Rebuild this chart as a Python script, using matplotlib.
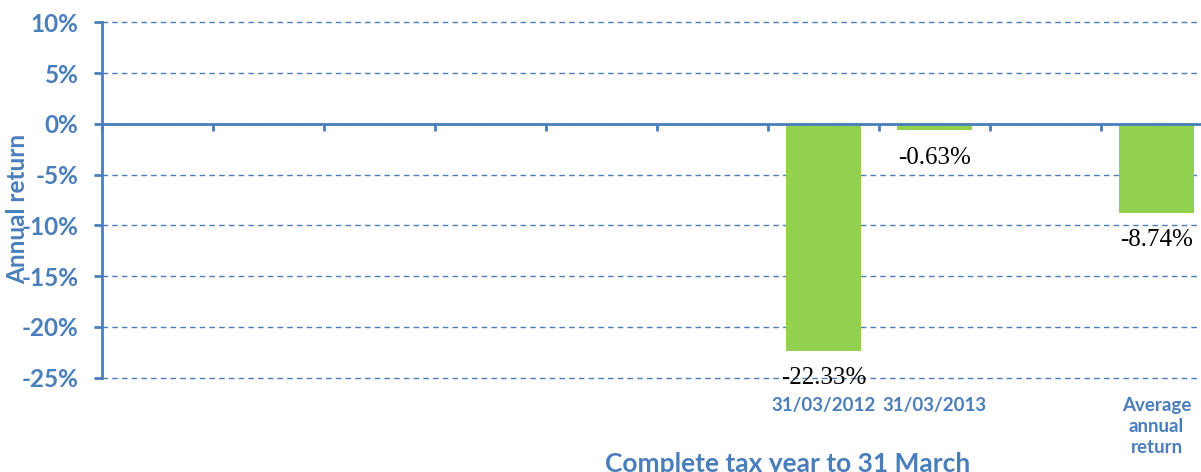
import numpy as np
import matplotlib
matplotlib.use('Agg')
import matplotlib.pyplot as plt
import matplotlib.transforms as mtransforms

# chart data
categories = ['', '', '', '', '', '', '31/03/2012', '31/03/2013', '', 'Average\nannual\nreturn']
returns = [np.nan, np.nan, np.nan, np.nan, np.nan, np.nan, -22.33, -0.63, np.nan, -8.74]
yticks = [10, 5, 0, -5, -10, -15, -20, -25]

blue = '#4A7EBB'
green = '#92D050'
font = 'Lato'

fig = plt.figure(figsize=(12.01, 4.72), dpi=100)
ax = fig.add_axes([102/1201., 1 - 377.7/472., 1110/1201., 355.2/472.])

x = np.arange(len(categories))
bars = ax.bar(x, returns, width=0.68, color=green, zorder=3)

for xi, v in zip(x, returns):
	if np.isnan(v):
		continue
	ax.annotate('%.2f%%' % v, (xi, v), xytext=(0, -20), textcoords='offset points',
		ha='center', va='center', fontsize=18, family='Liberation Serif', color='black', zorder=4)

ax.set_xlim(-0.5, len(categories) - 0.5)
ax.set_ylim(-25, 10)
ax.set_yticks(yticks)
ax.set_yticklabels(['%d%%' % t for t in yticks], fontsize=17.5, fontweight='bold', family=font, color=blue)
ax.yaxis.grid(True, linestyle=(0, (4, 3)), color=blue, linewidth=1, zorder=0)
for gl in ax.get_ygridlines():
	gl.set_clip_on(False)

for s in ['top', 'right']:
	ax.spines[s].set_visible(False)
ax.spines['left'].set_color(blue)
ax.spines['left'].set_linewidth(2)
ax.spines['bottom'].set_position(('data', 0))
ax.spines['bottom'].set_color(blue)
ax.spines['bottom'].set_linewidth(2)
ax.spines['bottom'].set_zorder(5)

ax.tick_params(axis='y', length=6, width=2, color=blue, pad=11)
ax.set_xticks(np.arange(len(categories) + 1) - 0.5)
ax.set_xticklabels([])
ax.tick_params(axis='x', length=5, width=2, color=blue)

# category labels sit below the plot area
trans = mtransforms.blended_transform_factory(ax.transData, ax.transAxes)
for xi, lab in zip(x, categories):
	if lab:
		ax.text(xi, -0.053, lab, transform=trans, ha='center', va='top', fontsize=13.5,
			fontweight='bold', family=font, color=blue, linespacing=1.3)

ax.set_ylabel('Annual return', fontsize=17.5, fontweight='bold', family=font, color=blue)
ax.yaxis.set_label_coords(-0.066, 0.475)
ax.set_xlabel('Complete tax year to 31 March', fontsize=19, fontweight='bold', family=font, color=blue)
ax.xaxis.set_label_coords((788 - 102) / 1110., -(452 - 377.7) / 355.2)

fig.savefig('out.png', dpi=100)
